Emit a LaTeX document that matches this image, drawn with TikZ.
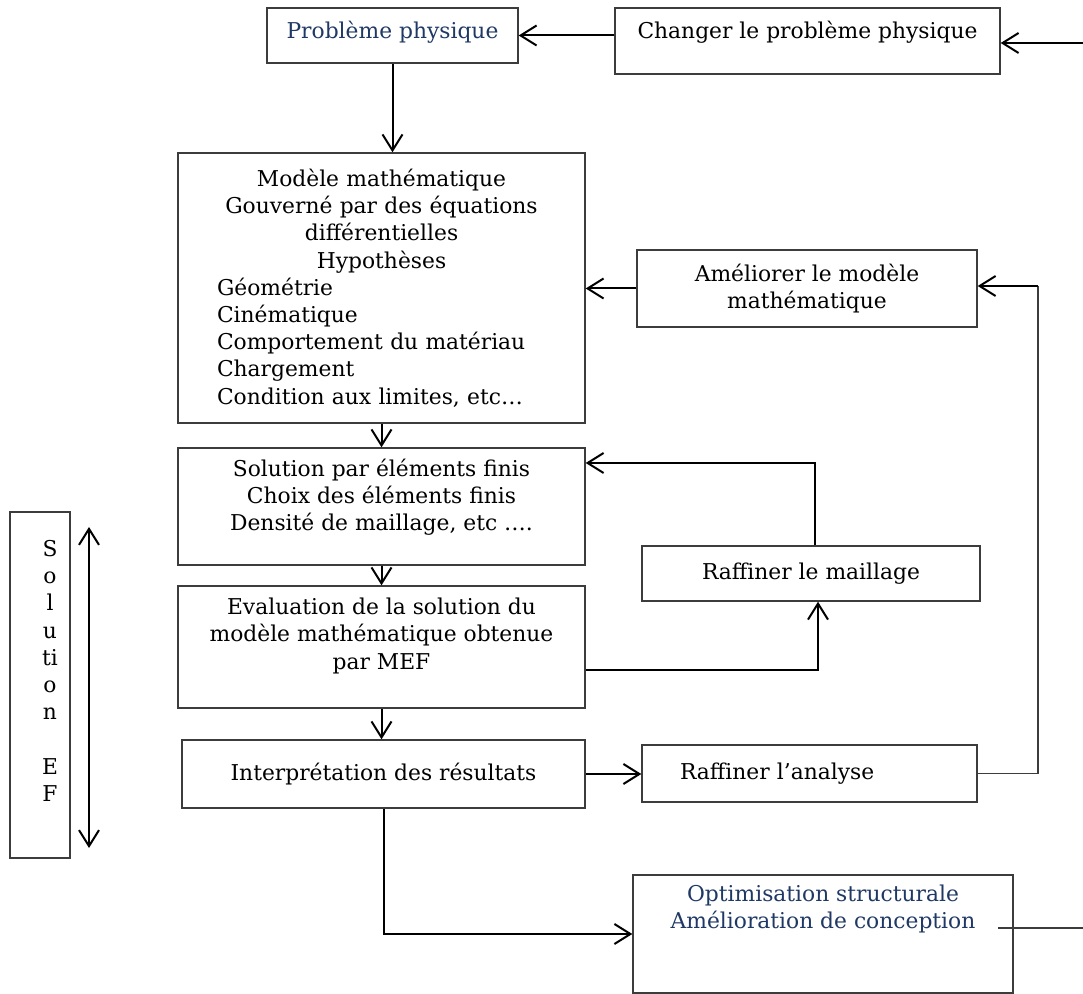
\documentclass[tikz,border=0pt]{standalone}
\usepackage{fontspec}
\setmainfont{DejaVu Serif}
\usepackage{tikz}
\usetikzlibrary{arrows.meta,positioning,calc}
\usepackage{xcolor}
\definecolor{myblue}{RGB}{31,56,100}
\definecolor{mygray}{RGB}{60,60,60}
\newcommand{\liftby}[2]{\raisebox{#1}[0pt][0pt]{\begin{tabular}{@{}c@{}}#2\end{tabular}}}
\tikzset{
  box/.style={rectangle,draw=mygray,line width=0.7pt,align=center,inner sep=0pt},
  bigbox/.style={box,minimum width=203.5pt},
  sidebox/.style={box,minimum width=170pt},
  flow/.style={-{Straight Barb[length=8pt,width=10pt]},line width=1pt},
  thinline/.style={line width=0.7pt,color=mygray},
}
\begin{document}
\begin{tikzpicture}[x=0.5pt,y=-0.5pt,every node/.style={font=\fontsize{10.9}{13.6}\selectfont}]
  \useasboundingbox (0,0) rectangle (1083,994);
  % colonne principale
  \node[box,minimum width=125.5pt,text height=15.5pt,text depth=12pt,text=myblue] (pp) at (392.5,35.5) {Problème physique};
  \node[box,minimum width=192.5pt,text height=15.5pt,text depth=17.5pt] (chg) at (807.5,41) {Changer le problème physique};
  \node[bigbox,minimum height=135pt,text width=203.5pt,align=left] (math) at (381.5,288) {%
    {\centering Modèle mathématique\\Gouverné par des équations\\différentielles\\Hypothèses\par}
    {\leftskip=19.5pt Géométrie\\Cinématique\\Comportement du matériau\\Chargement\\Condition aux limites, etc…\par}};
  \node[sidebox,minimum height=38.5pt] (amel) at (807,288.5) {Améliorer le modèle\\mathématique};
  \node[bigbox,minimum height=58.5pt] (sol) at (381.5,506.5) {\liftby{1.5pt}{Solution par éléments finis\\Choix des éléments finis\\Densité de maillage, etc ….}};
  \node[box,minimum width=169pt,minimum height=27.5pt] (rmail) at (811,573.5) {Raffiner le maillage};
  \node[bigbox,minimum height=61pt] (eval) at (381.5,647) {\liftby{2.5pt}{Evaluation de la solution du\\modèle mathématique obtenue\\par MEF}};
  \node[box,minimum width=201.5pt,minimum height=34pt] (interp) at (383.5,774) {Interprétation des résultats};
  \node[box,minimum width=167.5pt,minimum height=28.5pt,text width=129.5pt,inner xsep=19pt,align=left] (rana) at (809.5,773.5) {Raffiner l’analyse};
  \node[box,minimum width=190pt,minimum height=59pt,text=myblue] (opt) at (823,934) {\liftby{9.5pt}{Optimisation structurale\\Amélioration de conception}};
  \node[box,minimum width=30pt,minimum height=173pt] (solEF) at (40,685) {\hspace*{10pt}\raisebox{3pt}[0pt][0pt]{\begin{tabular}{@{}c@{}}S\\o\\l\\u\\ti\\o\\n\\ \\E\\F\end{tabular}}};
  % points libres
  \coordinate (inR) at (1083,43);
  \coordinate (outR) at (1083,928);
  \coordinate (optOut) at (998,928);
  \coordinate (fbA) at (1038,286);
  \coordinate (kA) at (815,463);
  \coordinate (kB) at (818,670);
  \coordinate (efTop) at (89,527);
  \coordinate (efBot) at (89,848);
  % connecteurs
  \draw[flow] (chg.west |- pp.east) -- (pp.east);
  \draw[flow] (inR) -- (inR -| chg.east);
  \draw[flow] (pp.south) -- (pp.south |- math.north);
  \draw[flow] (amel.west) -- (amel.west -| math.east);
  \draw[thinline] (rana.east) -| (fbA);
  \draw[flow] (fbA) -- (fbA -| amel.east);
  \draw[flow] (math.south) -- (sol.north);
  \draw[flow] (kA |- rmail.north) -- (kA) -- (kA -| sol.east);
  \draw[flow] (sol.south) -- (eval.north);
  \draw[flow] (kB -| eval.east) -- (kB) -- (kB |- rmail.south);
  \draw[flow] (eval.south) -- (eval.south |- interp.north);
  \draw[flow] (interp.east) -- (interp.east -| rana.west);
  \draw[flow] (interp.south) |- (opt.west);
  \draw[thinline] (optOut) -- (outR);
  \draw[flow,{Straight Barb[length=8pt,width=10pt]}-{Straight Barb[length=8pt,width=10pt]}] (efTop) -- (efBot);
\end{tikzpicture}
\end{document}
